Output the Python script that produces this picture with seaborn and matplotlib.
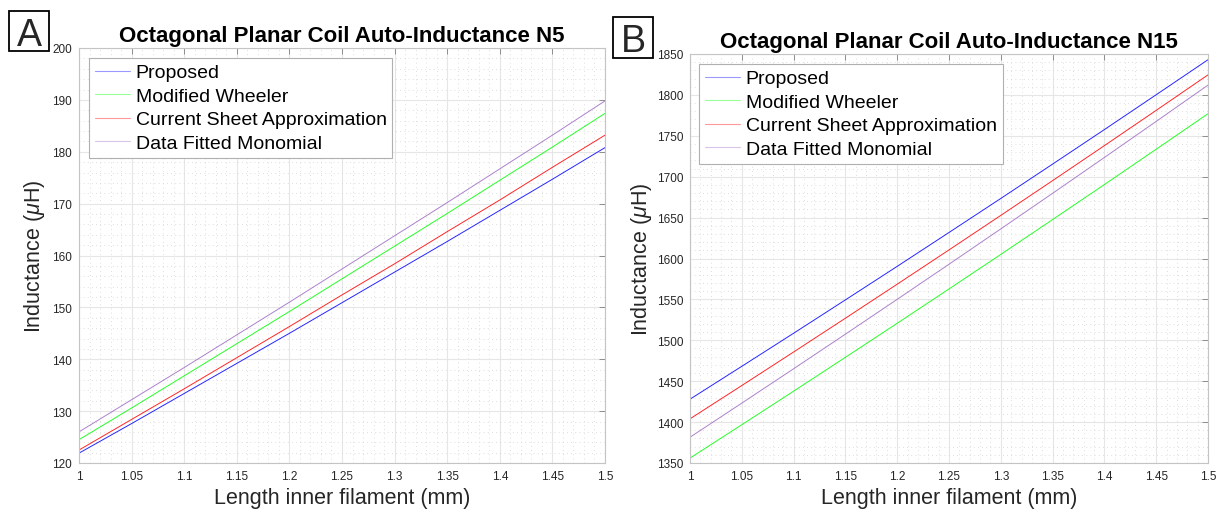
#!/usr/bin/env python3

import numpy as np
import pandas as pd
import matplotlib
matplotlib.use('Agg')
import matplotlib.pyplot as plt
from matplotlib.patches import Rectangle
from matplotlib.ticker import MultipleLocator, AutoMinorLocator, FormatStrFormatter
import seaborn as sns

# Length of the inner filament (mm)
length_mm = [1.00, 1.05, 1.10, 1.15, 1.20, 1.25, 1.30, 1.35, 1.40, 1.45, 1.50]

series_names = ['Proposed', 'Modified Wheeler',
                'Current Sheet Approximation', 'Data Fitted Monomial']
series_colors = ['#0000ff', '#00ff00', '#ff0000', '#9e6cc4']

# Panel A: N5 inductance (uH)
n5_proposed = [121.9, 127.6, 133.4, 139.2, 145.0, 150.9, 156.8, 162.7, 168.7, 174.7, 180.8]
n5_wheeler = [124.5, 130.6, 136.8, 143.0, 149.2, 155.5, 161.8, 168.1, 174.5, 180.9, 187.4]
n5_current_sheet = [122.5, 128.4, 134.3, 140.3, 146.3, 152.4, 158.4, 164.6, 170.7, 177.0, 183.2]
n5_monomial = [126.0, 132.2, 138.4, 144.7, 151.0, 157.4, 163.8, 170.2, 176.7, 183.2, 189.8]

# Panel B: N15 inductance (uH)
n15_proposed = [1428.0, 1468.2, 1508.6, 1549.4, 1590.4, 1631.8, 1673.4, 1715.4, 1757.6, 1800.2, 1843.0]
n15_wheeler = [1356.0, 1396.8, 1437.8, 1479.2, 1520.8, 1562.8, 1605.0, 1647.6, 1690.4, 1733.6, 1777.0]
n15_current_sheet = [1404.0, 1444.7, 1485.7, 1527.0, 1568.6, 1610.5, 1652.7, 1695.2, 1738.0, 1781.1, 1824.5]
n15_monomial = [1381.5, 1423.2, 1465.2, 1507.5, 1550.1, 1593.0, 1636.2, 1679.7, 1723.5, 1767.6, 1812.0]

sns.set_style('white')
plt.rcParams['font.family'] = ['Liberation Sans', 'DejaVu Sans']
plt.rcParams['mathtext.fontset'] = 'custom'
plt.rcParams['mathtext.it'] = 'Liberation Sans:italic'
plt.rcParams['mathtext.rm'] = 'Liberation Sans'

W, H = 1219, 510
fig = plt.figure(figsize=(W / 100, H / 100), dpi=100)


def px_axes(left, top, right, bottom):
    return fig.add_axes([left / W, 1 - bottom / H, (right - left) / W, (bottom - top) / H])


def draw_panel(ax, values, title, ylim, ystep, legend_box, ylabelpad):
    df = pd.DataFrame({'x': length_mm * 4,
                       'y': sum(values, []),
                       'series': sum([[n] * len(length_mm) for n in series_names], [])})
    sns.lineplot(data=df, x='x', y='y', hue='series', hue_order=series_names,
                 palette=series_colors, linewidth=0.7, alpha=0.85, ax=ax)
    ax.set_xlim(1.0, 1.5)
    ax.set_ylim(*ylim)
    ax.xaxis.set_major_locator(MultipleLocator(0.05))
    ax.yaxis.set_major_locator(MultipleLocator(ystep))
    ax.xaxis.set_minor_locator(AutoMinorLocator(5))
    ax.yaxis.set_minor_locator(AutoMinorLocator(5))
    ax.xaxis.set_major_formatter(FormatStrFormatter('%g'))
    ax.grid(which='major', color='#e6e6e6', linewidth=0.8, linestyle='-')
    ax.grid(which='minor', color='#d4d4d4', linewidth=0.6, linestyle=(0, (1, 4)))
    ax.set_axisbelow(True)
    for sp in ax.spines.values():
        sp.set_color('#c4c4c4')
        sp.set_linewidth(0.8)
    ax.tick_params(which='major', direction='in', length=4, width=0.6,
                   color='#808080', labelsize=8.5, labelcolor='#262626',
                   top=True, right=True, pad=5)
    ax.tick_params(which='minor', length=0)
    ax.set_title(title, fontsize=16, fontweight='bold', color='black', pad=5)
    ax.set_xlabel('Length inner filament (mm)', fontsize=15.5, color='#262626', labelpad=4)
    ax.set_ylabel(r'Inductance ($\mu$H)', fontsize=15.5, color='#262626', labelpad=ylabelpad)
    leg = ax.legend(loc='upper left', bbox_to_anchor=legend_box, borderaxespad=0,
                    fontsize=14, frameon=True, fancybox=False, framealpha=1,
                    edgecolor='#b0b0b0', handlelength=1.8, handletextpad=0.3,
                    labelspacing=0.3, borderpad=0.3)
    leg.get_frame().set_linewidth(0.8)
    for text in leg.get_texts():
        text.set_color('black')
    for line in leg.get_lines():
        line.set_linewidth(0.8)
        line.set_alpha(0.4)


ax_a = px_axes(79, 49, 605, 464)
draw_panel(ax_a, [n5_proposed, n5_wheeler, n5_current_sheet, n5_monomial],
           'Octagonal Planar Coil Auto-Inductance N5', (120, 200), 10,
           ((89 - 79) / 526, (464 - 59) / 415), 3.5)

ax_b = px_axes(690, 55, 1208, 464)
draw_panel(ax_b, [n15_proposed, n15_wheeler, n15_current_sheet, n15_monomial],
           'Octagonal Planar Coil Auto-Inductance N15', (1350, 1850), 50,
           ((699 - 690) / 518, (464 - 65) / 409), 1.5)

# Panel letters in boxes
for letter, (x0, y0, x1, y1) in [('A', (9, 12, 49, 52)), ('B', (613, 18, 653, 59))]:
    fig.add_artist(Rectangle((x0 / W, 1 - y1 / H), (x1 - x0) / W, (y1 - y0) / H,
                             transform=fig.transFigure, facecolor='white',
                             edgecolor='black', linewidth=1.3))
    fig.text((x0 + x1) / 2 / W, 1 - (y0 + y1) / 2 / H, letter, fontsize=27,
             ha='center', va='center_baseline')

fig.savefig('out.png', dpi=100)
